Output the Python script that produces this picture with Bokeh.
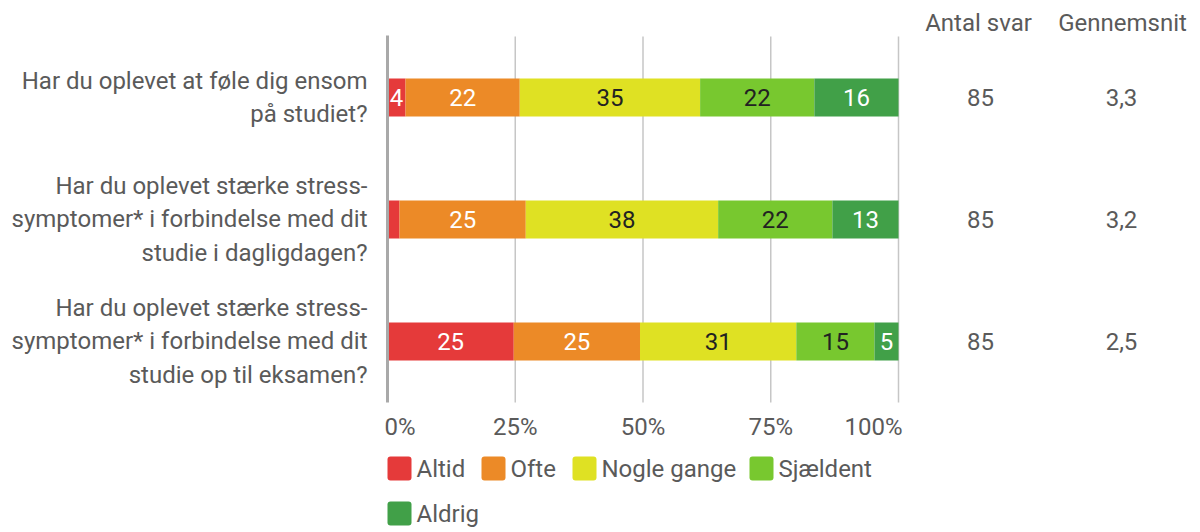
from bokeh.plotting import figure
from bokeh.models import Range1d, ColumnDataSource
from bokeh.core.properties import value
from bokeh.embed import file_html
from bokeh.resources import INLINE

# ---------------- data ----------------
questions = [
    "Har du oplevet at føle dig ensom\npå studiet?",
    "Har du oplevet stærke stress-\nsymptomer* i forbindelse med dit\nstudie i dagligdagen?",
    "Har du oplevet stærke stress-\nsymptomer* i forbindelse med dit\nstudie op til eksamen?",
]
categories = ["Altid", "Ofte", "Nogle gange", "Sjældent", "Aldrig"]
colors = ["#e53a3a", "#ec8a27", "#dfe123", "#78c82f", "#41a048"]
label_colors = ["white", "white", "#222222", "#222222", "white"]
# counts of answers per category (rows = questions)
altid = [3, 2, 21]
ofte = [19, 21, 21]
nogle = [30, 32, 26]
sjaeldent = [19, 19, 13]
aldrig = [14, 11, 4]
antal_svar = [85, 85, 85]
gennemsnit = ["3,3", "3,2", "2,5"]
tick_values = [0, 25, 50, 75, 100]
tick_labels = ["0%", "25%", "50%", "75%", "100%"]

series = [altid, ofte, nogle, sjaeldent, aldrig]

# ---------------- layout helpers (page pixel -> data) ----------------
W, H = 1200, 532
ORIGIN = 0
X0_PAGE, X100_PAGE = 387.0, 898.0
SX = (X100_PAGE - X0_PAGE) / 100.0
ROW0_PAGE, ROW_STEP = 97.0, 122.0


def px(page_x):
    return (page_x - X0_PAGE) / SX


def py(page_y):
    return (page_y - ROW0_PAGE) / ROW_STEP


p = figure(width=W, height=H, output_backend="svg", toolbar_location=None,
           x_range=Range1d(px(ORIGIN), px(ORIGIN + W)),
           y_range=Range1d(py(ORIGIN + H), py(ORIGIN)),
           min_border=0, min_border_left=0, min_border_right=0,
           min_border_top=0, min_border_bottom=0,
           x_axis_type=None, y_axis_type=None)
p.outline_line_color = None
p.background_fill_color = "white"
p.border_fill_color = "white"
p.grid.visible = False

FONT = value("Roboto")
GRAY = "#5a5a5a"
FS = "24px"

rows = list(range(len(questions)))

# gridlines
p.segment(x0=tick_values[1:], x1=tick_values[1:], y0=[-0.5] * 4, y1=[2.5] * 4,
          line_color="#c6c6c6", line_width=1.5)

# bars
totals = [sum(s[i] for s in series) for i in rows]
left = [0.0] * len(rows)
for k, s in enumerate(series):
    pct = [100.0 * s[i] / totals[i] for i in rows]
    right = [left[i] + pct[i] for i in rows]
    src = ColumnDataSource(dict(y=rows, left=left, right=right,
                                mid=[(left[i] + right[i]) / 2 for i in rows],
                                lab=[str(int(round(v))) if v >= 3 else "" for v in pct]))
    p.hbar(y="y", left="left", right="right", height=38 / ROW_STEP, source=src,
           fill_color=colors[k], line_color=None)
    p.text(x="mid", y="y", text="lab", source=src, text_align="center",
           text_baseline="middle", text_font=FONT, text_font_size=FS,
           text_color=label_colors[k])
    left = right

# zero axis line
p.segment(x0=[0], x1=[0], y0=[py(35)], y1=[py(402)], line_color="#a9a9a9", line_width=3)

# question labels
p.text(x=[px(367)] * 3, y=rows, text=questions, text_align="right",
       text_baseline="middle", text_font=FONT, text_font_size=FS,
       text_color=GRAY, text_line_height=1.19)

# x tick labels
aligns = ["left", "center", "center", "center", "right"]
offs = [px(384) - 0, 0, 0, 0, px(902) - 100]
for v, lab, al, o in zip(tick_values, tick_labels, aligns, offs):
    p.text(x=[v + o], y=[py(426)], text=[lab], text_align=al, text_baseline="middle",
           text_font=FONT, text_font_size=FS, text_color=GRAY)

# right columns
p.text(x=[px(978), px(1122)], y=[py(22)] * 2, text=["Antal svar", "Gennemsnit"],
       text_align="center", text_baseline="middle", text_font=FONT,
       text_font_size=FS, text_color=GRAY)
p.text(x=[px(980)] * 3, y=rows, text=[str(v) for v in antal_svar], text_align="center",
       text_baseline="middle", text_font=FONT, text_font_size=FS, text_color=GRAY)
p.text(x=[px(1121)] * 3, y=rows, text=gennemsnit, text_align="center",
       text_baseline="middle", text_font=FONT, text_font_size=FS, text_color=GRAY)

# legend
leg_x = [387, 481, 572, 749, 387]
leg_y = [468, 468, 468, 468, 513]
p.rect(x=[px(x + 12) for x in leg_x], y=[py(y) for y in leg_y], width=24, height=24,
       width_units="screen", height_units="screen", fill_color=colors, line_color=None,
       border_radius=3)
p.text(x=[px(x + 29) for x in leg_x], y=[py(y) for y in leg_y], text=categories,
       text_align="left", text_baseline="middle", text_font=FONT, text_font_size=FS,
       text_color=GRAY)

open("out.html", "w").write(file_html(p, INLINE))
